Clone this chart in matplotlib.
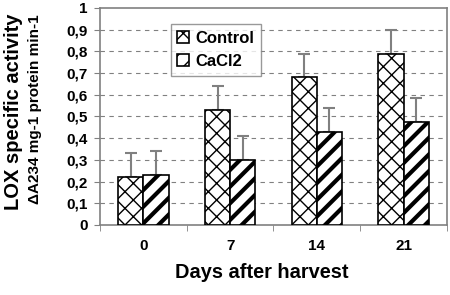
import matplotlib
matplotlib.use("Agg")
import matplotlib.pyplot as plt
import numpy as np

days = ["0", "7", "14", "21"]
control = [0.222, 0.53, 0.68, 0.79]
control_err = [0.11, 0.11, 0.11, 0.11]
cacl2 = [0.232, 0.30, 0.428, 0.473]
cacl2_err = [0.11, 0.11, 0.11, 0.11]
yticks = [0, 0.1, 0.2, 0.3, 0.4, 0.5, 0.6, 0.7, 0.8, 0.9, 1]
ytick_labels = ["0", "0,1", "0,2", "0,3", "0,4", "0,5", "0,6", "0,7", "0,8", "0,9", "1"]

plt.rcParams['font.family'] = ['Liberation Sans', 'DejaVu Sans']
plt.rcParams['font.weight'] = 'bold'

fig = plt.figure(figsize=(4.5, 2.95), dpi=100)
ax = fig.add_axes([0.2222, 0.2373, 0.7711, 0.7356])

x = np.arange(len(days))
w = 0.29
ekw = dict(ecolor="#808080", elinewidth=1.5, capsize=4, capthick=1.5)

b1 = ax.bar(x - w / 2, control, w, color="white", edgecolor="black", hatch="xx",
            linewidth=1.2, label="Control", zorder=3)
b2 = ax.bar(x + w / 2, cacl2, w, color="white", edgecolor="black", hatch="//",
            linewidth=1.2, label="CaCl2", zorder=3)
for bars in (b1, b2):
    for p in bars:
        if hasattr(p, "set_hatch_linewidth"):
            p.set_hatch_linewidth(1.0 if bars is b1 else 3.0)

ax.errorbar(x - w / 2, control, yerr=[np.zeros(4), control_err], fmt="none", zorder=2, **ekw)
ax.errorbar(x + w / 2, cacl2, yerr=[np.zeros(4), cacl2_err], fmt="none", zorder=2, **ekw)

ax.set_xlim(-0.5, 3.5)
ax.set_ylim(0, 1)
ax.set_yticks(yticks)
ax.set_yticklabels(ytick_labels, fontsize=11, fontweight="bold")
ax.set_xticks(x)
ax.set_xticklabels(days, fontsize=11, fontweight="bold")
ax.set_xticks(np.arange(-0.5, 4.0, 1.0), minor=True)
ax.tick_params(axis="x", which="major", length=0, pad=10)
ax.tick_params(axis="x", which="minor", length=4, color="#808080")
ax.tick_params(axis="y", length=4, color="#808080", pad=5)

for yv in yticks[1:-1]:
    ax.axhline(yv, color="#808080", linestyle=(0, (4, 4)), linewidth=0.8, zorder=1)

for s in ax.spines.values():
    s.set_color("#808080")
    s.set_linewidth(1.2)

fig.text(0.582, 0.075, "Days after harvest", fontsize=14.4, fontweight="bold",
         ha="center", va="center")
fig.text(0.03, 0.62, "LOX specific activity", rotation=90, fontsize=14.5,
         fontweight="bold", ha="center", va="center")
fig.text(0.078, 0.63, "\u0394A234 mg-1 protein min-1", rotation=90, fontsize=11,
         fontweight="bold", ha="center", va="center")

leg = ax.legend(loc="upper left", bbox_to_anchor=(0.18, 0.965), fontsize=12,
                frameon=True, fancybox=False, edgecolor="#808080",
                handlelength=0.7, handleheight=0.7, handletextpad=0.4,
                borderpad=0.4, labelspacing=0.5)
leg.get_frame().set_linewidth(1.0)

fig.savefig("out.png", dpi=100)
